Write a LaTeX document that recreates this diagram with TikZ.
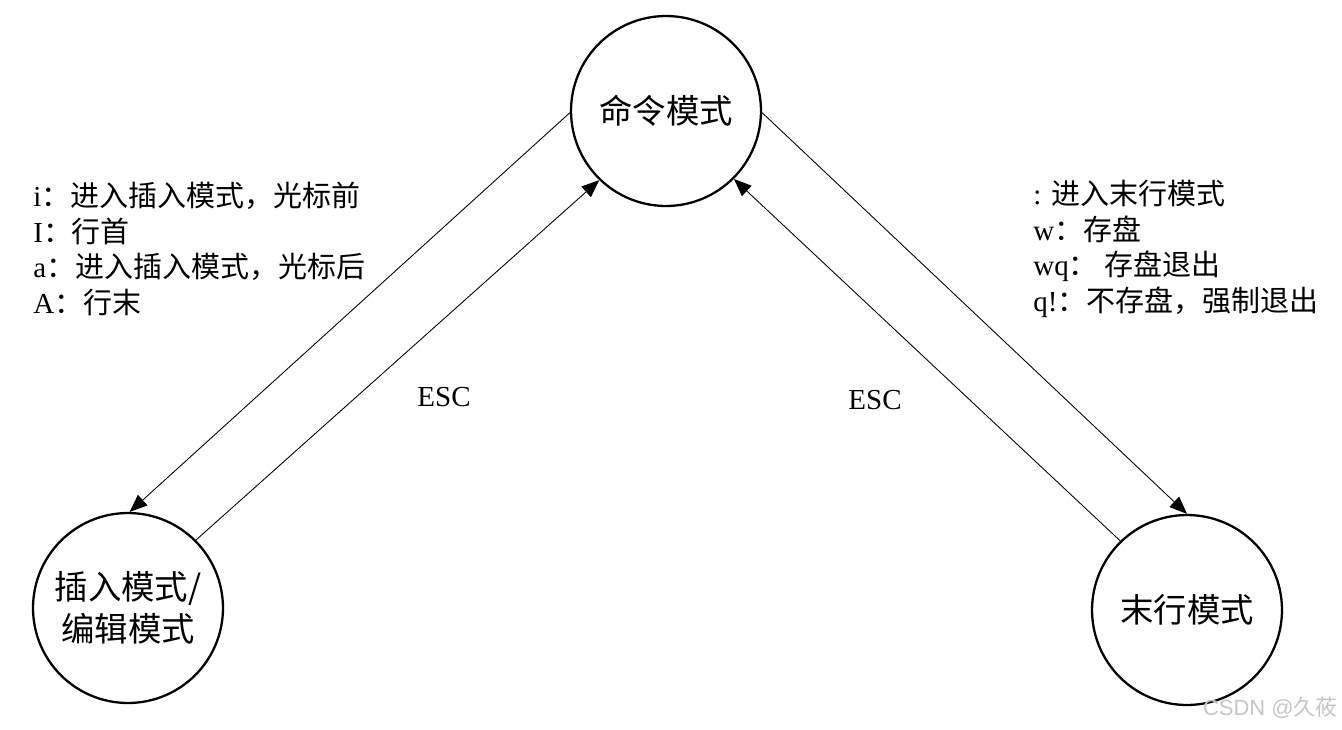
\documentclass[tikz,border=0pt]{standalone}
\usepackage{fontspec}
\setmainfont{Liberation Serif}
\newfontfamily\cjk{Noto Sans CJK SC}
\newfontfamily\wmfont{Liberation Sans}
\newcommand{\zh}[1]{{\cjk #1}}
\usetikzlibrary{arrows.meta,positioning}

\begin{document}
\begin{tikzpicture}[
    x=0.02cm,y=-0.02cm,
    state/.style={circle,draw,line width=1.3pt,minimum size=3.8cm,inner sep=0pt,
                  align=center,font=\cjk\fontsize{19}{24}\selectfont},
    arr/.style={-{Triangle[length=10pt,width=8pt]},line width=0.5pt},
    note/.style={align=left,anchor=west,inner sep=0pt,font=\fontsize{16.5}{20.2}\selectfont},
    esc/.style={font=\fontsize{16.5}{18}\selectfont}
]
\useasboundingbox (0,0) rectangle (1342,730);

\node[state] (cmd) at (666,111) {命令模式};
\node[state] (ins) at (128,608) {插入模式/\\编辑模式};
\node[state] (last) at (1187,610) {末行模式};

\draw[arr] (cmd.181) -- (ins.89);
\draw[arr] (ins.45) -- (cmd.226);
\draw[arr] (cmd.359) -- (last.90);
\draw[arr] (last.134) -- (cmd.315);

\node[note] (insnote) at (33,249) {i\zh{：进入插入模式，光标前}\\I\zh{：行首}\\a\zh{：进入插入模式，光标后}\\A\zh{：行末}};
\node[note] (lastnote) at (1033,249) {: \zh{进入末行模式}\\w\zh{：存盘}\\wq\zh{： 存盘退出}\\q!\zh{：不存盘，强制退出}};

\node[esc] (escl) at (444,397) {ESC};
\node[esc] (escr) at (875,400) {ESC};

\node[font=\wmfont\fontsize{12.5}{14}\selectfont,text=gray!45,anchor=east,inner sep=0pt] (mark) at (1338,708) {CSDN @{\cjk 久莜}};
\end{tikzpicture}
\end{document}
